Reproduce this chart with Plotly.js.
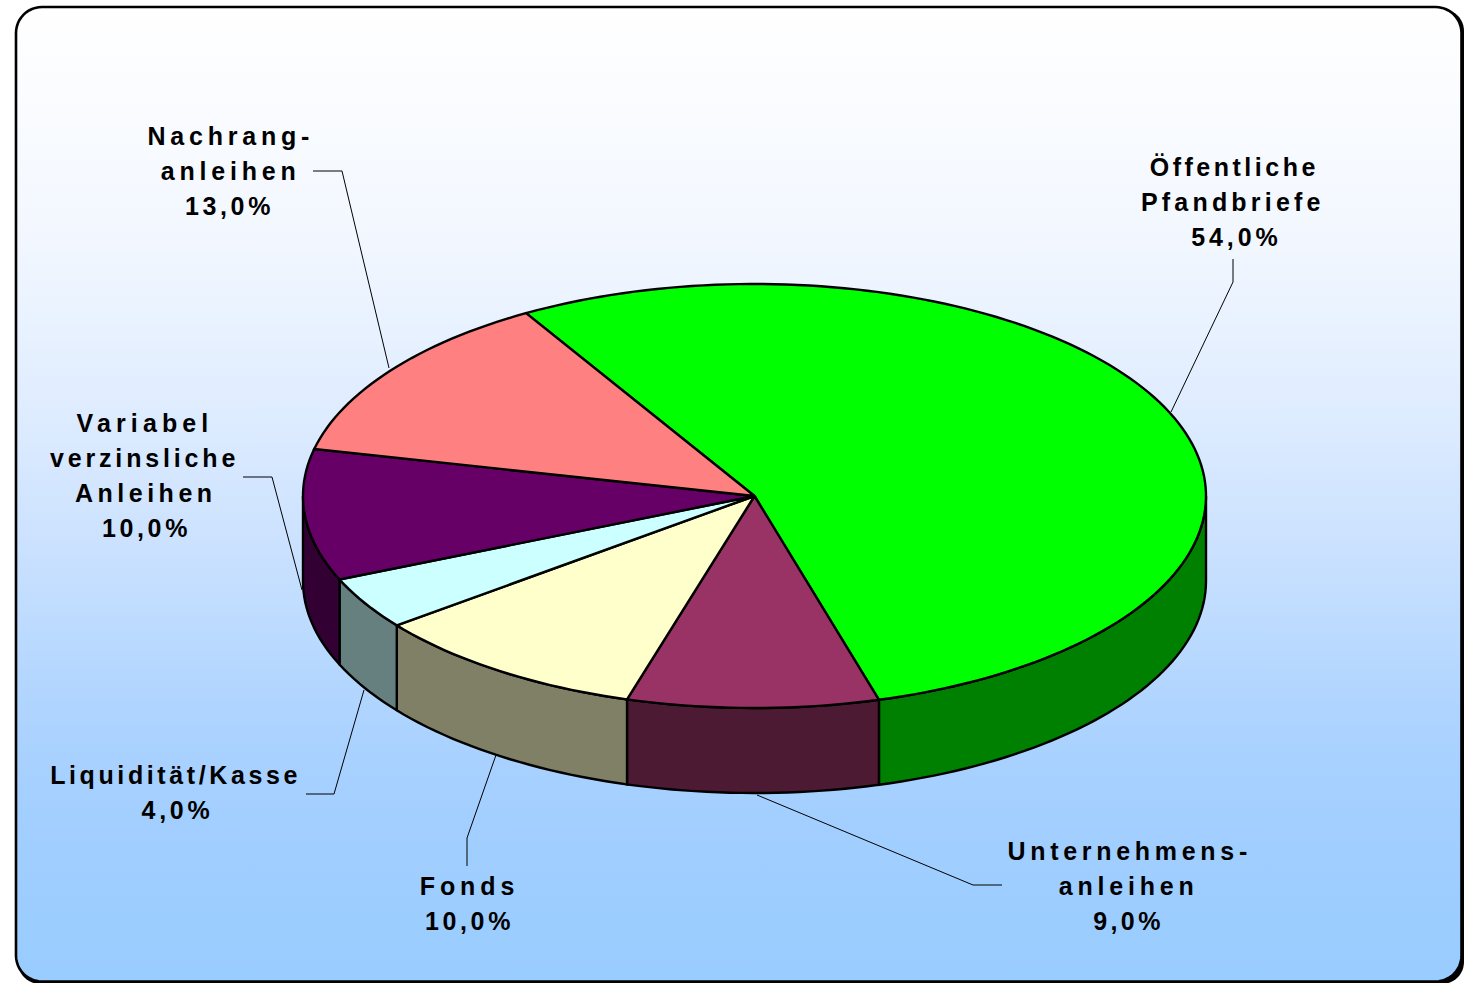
<!DOCTYPE html>
<html>
<head>
<meta charset="utf-8">
<script src="https://cdn.plot.ly/plotly-3.0.1.min.js"></script>
<style>
html,body{margin:0;padding:0;background:#fff;overflow:hidden}
#chart{width:1465px;height:983px}
</style>
</head>
<body>
<div id="chart"></div>
<script>
// Data, in drawing order (clockwise)
const categories = ["Öffentliche Pfandbriefe","Unternehmensanleihen","Fonds","Liquidität/Kasse","Variabel verzinsliche Anleihen","Nachranganleihen"];
const values = [54, 9, 10, 4, 10, 13];
const topColors = ["#00FF00","#993366","#FFFFCC","#CCFFFF","#660066","#FF8080"];
const sideColors = ["#008000","#4D1A33","#808066","#668080","#330033","#804040"];
const labelLines = [
  ["Öffentliche","Pfandbriefe","54,0%"],
  ["Unternehmens-","anleihen","9,0%"],
  ["Fonds","10,0%"],
  ["Liquidität/Kasse","4,0%"],
  ["Variabel","verzinsliche","Anleihen","10,0%"],
  ["Nachrang-","anleihen","13,0%"]
];
const labelLineX = [
  [1234,1233,1236],
  [1129,1128,1128.5],
  [469,469.5],
  [175,177.5],
  [145,144,146,146.5],
  [230.5,230,229.5]
];
const labelTracking = [
  [3.5,4.2,3.9],
  [4.7,4.8,3.4],
  [4.9,3.65],
  [3.6,3.7],
  [5.1,3.85,4.5,3.65],
  [4.8,4.8,3.65]
];
const labelFirstY = [167, 851, 886, 775, 423, 136];
const linePitch = 35;
const leaders = [
  [[1233,259],[1233,282],[1171,412]],
  [[1002,885],[973,885],[757,795]],
  [[467,866],[467,838],[496,755]],
  [[306,794],[334,794],[364,690]],
  [[243,477],[272,477],[302,590]],
  [[313,171],[342,171],[389,368]]
];
const backgroundStops = [
  [60,"#FFFFFF"],[240,"#F2F7FF"],[400,"#E0EDFF"],[550,"#CAE1FF"],
  [700,"#B0D5FF"],[780,"#A6D0FF"],[850,"#A0CEFF"],[983,"#99CCFF"]
];

// Pie geometry on the page
const cx = 754.5, cy = 496, rx = 451.5, ry = 212, depth = 85;
const startDeg = -30.4;

function rim(a, dy) {
  const t = a * Math.PI / 180;
  return [cx + rx * Math.sin(t), cy - ry * Math.cos(t) + dy];
}
function arc(a0, a1, dy) {
  const n = Math.max(2, Math.ceil(Math.abs(a1 - a0) / 1.5));
  const out = [];
  for (let i = 0; i <= n; i++) out.push(rim(a0 + (a1 - a0) * i / n, dy));
  return out;
}
function polyTrace(pts, fill, width) {
  return {
    type: "scatter", mode: "lines",
    x: pts.map(p => p[0]), y: pts.map(p => p[1]),
    fill: "toself", fillcolor: fill,
    line: {color: "#000", width: width, simplify: false},
    hoverinfo: "skip", showlegend: false
  };
}

// Frame with gradient
function roundRect(x0, y0, x1, y1, r) {
  const pts = [];
  const corner = (px, py, a0) => {
    for (let i = 0; i <= 12; i++) {
      const t = (a0 + 90 * i / 12) * Math.PI / 180;
      pts.push([px + r * Math.cos(t), py + r * Math.sin(t)]);
    }
  };
  corner(x0 + r, y0 + r, 180);
  corner(x1 - r, y0 + r, 270);
  corner(x1 - r, y1 - r, 0);
  corner(x0 + r, y1 - r, 90);
  pts.push(pts[0]);
  return pts;
}
const traces = [];
traces.push(polyTrace(roundRect(18, 9, 1464, 984, 22), "#000", 0));
const frame = polyTrace(roundRect(16, 7, 1461.5, 981.5, 26), "#fff", 2.6);
delete frame.fillcolor;
const yTop = 7, yBottom = 981.5;
frame.fillgradient = {
  type: "vertical",
  // the colour scale runs from the pixel-largest y to the smallest on this flipped axis
  colorscale: backgroundStops.map(([y, c]) => [Math.min(1, Math.max(0, (yBottom - y) / (yBottom - yTop))), c]).reverse()
};
frame.fillgradient.colorscale[0][0] = 0;
frame.fillgradient.colorscale[frame.fillgradient.colorscale.length - 1][0] = 1;
traces.push(frame);

// Leader lines
leaders.forEach(l => traces.push({
  type: "scatter", mode: "lines",
  x: l.map(p => p[0]), y: l.map(p => p[1]),
  line: {color: "#000", width: 1}, hoverinfo: "skip", showlegend: false
}));

// Slices
const total = values.reduce((a, b) => a + b, 0);
const spans = [];
let acc = startDeg;
values.forEach(v => { const a1 = acc + v / total * 360; spans.push([acc, a1]); acc = a1; });

spans.forEach(([a0, a1], i) => {
  const s0 = Math.max(a0, 90), s1 = Math.min(a1, 270);
  if (s1 > s0) {
    const pts = arc(s0, s1, 0).concat(arc(s1, s0, depth));
    pts.push(pts[0]);
    traces.push(polyTrace(pts, sideColors[i], 2.4));
  }
});
spans.forEach(([a0, a1], i) => {
  const pts = [[cx, cy]].concat(arc(a0, a1, 0));
  pts.push([cx, cy]);
  traces.push(polyTrace(pts, topColors[i], 2.4));
});

// Labels
const annotations = [];
const trackingCss = [];
labelLines.forEach((lines, i) => {
  lines.forEach((t, j) => {
    trackingCss.push(`.annotation[data-index="${annotations.length}"] text{letter-spacing:${labelTracking[i][j]}px}`);
    annotations.push({
      x: labelLineX[i][j], y: labelFirstY[i] + j * linePitch,
      xref: "x", yref: "y", text: t, showarrow: false,
      xanchor: "center", yanchor: "middle",
      font: {family: "Liberation Sans, Arial, sans-serif", size: 25, color: "#000", weight: 700}
    });
  });
});
const styleEl = document.createElement("style");
styleEl.textContent = trackingCss.join("\n");
document.head.appendChild(styleEl);

const layout = {
  width: 1465, height: 983,
  margin: {l: 0, r: 0, t: 0, b: 0},
  paper_bgcolor: "#fff", plot_bgcolor: "rgba(0,0,0,0)",
  showlegend: false,
  xaxis: {range: [0, 1465], visible: false, fixedrange: true},
  yaxis: {range: [983, 0], visible: false, fixedrange: true},
  annotations: annotations
};
Plotly.newPlot("chart", traces, layout, {displayModeBar: false, responsive: false});
</script>
</body>
</html>
